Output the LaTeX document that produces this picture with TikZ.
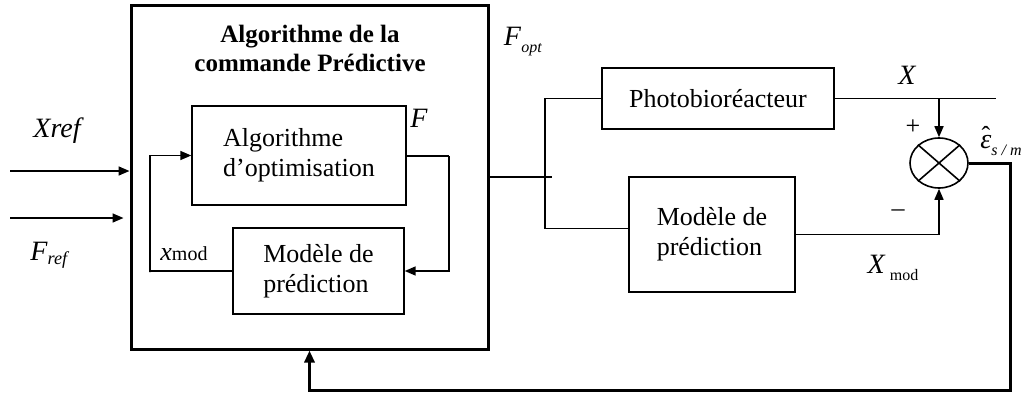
\documentclass[tikz,border=0pt]{standalone}
\usepackage{fontspec}
\setmainfont{Liberation Serif}
\usetikzlibrary{arrows.meta,positioning,shapes.geometric,calc}
\tikzset{
  block/.style={draw, line width=1.4pt, align=left, inner sep=0pt},
  bigbox/.style={draw, line width=3pt, inner sep=0pt},
  arr/.style={-{Triangle[length=11pt,width=9pt]}, line width=1.6pt},
  line/.style={line width=1.6pt},
  fbarr/.style={-{Triangle[length=12pt,width=10pt]}, line width=3pt},
  sumnode/.style={draw, ellipse, line width=1.6pt, minimum width=58pt, minimum height=50pt, inner sep=0pt},
  lbl/.style={inner sep=0pt},
  itlbl/.style={lbl, font=\fontsize{28}{32}\selectfont\itshape}
}
\begin{document}
\begin{tikzpicture}[x=1pt, y=-1pt, font=\fontsize{26}{30}\selectfont]
  \useasboundingbox (0,0) rectangle (1034,394);
  % commande predictive
  \node[bigbox, minimum width=357pt, minimum height=344pt] (cmd) at (309.5,177) {};
  \node[lbl, align=center, font=\fontsize{25}{29}\selectfont\bfseries] (title) at (310,48) {Algorithme de la\\commande Prédictive};
  \node[block, minimum width=214pt, minimum height=99pt] (optim) at (299,155.5) {Algorithme\\d’optimisation};
  \node[block, minimum width=171pt, minimum height=86pt] (modint) at (318.5,271) {Modèle de\\prédiction};
  % procede et modele
  \node[block, minimum width=232pt, minimum height=61pt, align=center] (photo) at (718,98.5) {Photobioréacteur};
  \node[block, minimum width=166pt, minimum height=115pt] (modext) at (712,234.5) {Modèle de\\prédiction};
  \node[sumnode] (sum) at (939,163) {};
  \draw[line] (sum.north east) -- (sum.south west);
  \draw[line] (sum.north west) -- (sum.south east);
  % entrees
  \coordinate (xin) at (10,171);
  \coordinate (fin) at (10,218);
  \draw[arr] (xin) -- (xin -| cmd.west);
  \draw[arr, shorten >=6pt] (fin) -- (fin -| cmd.west);
  \node[itlbl] (xref) at (57,131) {Xref};
  \node[lbl] (fref) at (50,255) {{\fontsize{28}{32}\selectfont\textit{F}}\textsubscript{\textit{ref}}};
  % boucle interne
  \coordinate (optr) at (449,156);
  \coordinate (modl) at (150,272);
  \draw[line] (optim.east |- optr) -- (optr);
  \draw[arr] (optr) |- (modint.east);
  \draw[arr] (modint.west) -| (modl) |- (optim.west);
  \node[itlbl] (flbl) at (419,118) {F};
  \node[lbl] (xmodlbl) at (184,254) {\textit{x}{\fontsize{20}{22}\selectfont mod}};
  % sortie commande
  \coordinate (split) at (545,177);
  \draw[line] (cmd.east) -- ($(split)+(7,0)$);
  \draw[line] (split) |- (photo.west);
  \draw[line] (split) |- ([yshift=6pt]modext.west);
  \node[lbl] (fopt) at (523,42) {{\fontsize{28}{32}\selectfont\textit{F}}{\fontsize{16}{18}\selectfont\raisebox{-7pt}{\textit{opt}}}};
  % comparaison
  \coordinate (xout) at (996,98.5);
  \draw[line] (photo.east) -- (xout);
  \draw[arr] (sum.north |- xout) -- (sum.north);
  \draw[arr] (modext.east) -| (sum.south);
  \node[itlbl] (xlbl) at (907,75) {X};
  \node[lbl] (plus) at (913,127) {+};
  \node[lbl] (minus) at (898,213) {–};
  \node[lbl] (xmodext) at (893,268) {{\fontsize{28}{32}\selectfont\textit{X}}\,{\fontsize{16}{18}\selectfont\raisebox{-7pt}{mod}}};
  \node[lbl] (eps) at (1001,145) {\ooalign{{\fontsize{28}{32}\selectfont\textit{ε}}\cr\hidewidth\raisebox{4pt}{ˆ}\hidewidth\cr}{\fontsize{16}{18}\selectfont\raisebox{-7pt}{\textit{s / m}}}};
  % retour
  \coordinate (fbr) at (1010,390);
  \draw[fbarr] (sum.east) -| (fbr) -| (cmd.south);
\end{tikzpicture}
\end{document}
